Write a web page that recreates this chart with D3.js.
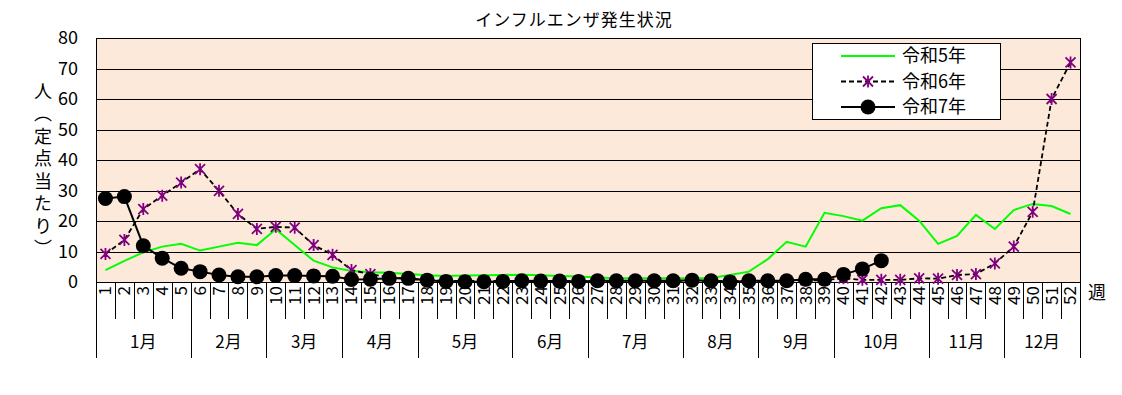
<!DOCTYPE html>
<html>
<head>
<meta charset="utf-8">
<script src="https://cdn.jsdelivr.net/npm/d3@7"></script>
<style>
  body { margin: 0; background: #fff; }
  text { font-family: "Noto Sans CJK JP", "Noto Sans", sans-serif; fill: #000; }
</style>
</head>
<body>
<div id="chart"></div>
<script>
// categories
var weeks = ["1","2","3","4","5","6","7","8","9","10","11","12","13","14","15","16","17","18","19","20",
  "21","22","23","24","25","26","27","28","29","30","31","32","33","34","35","36","37","38","39","40",
  "41","42","43","44","45","46","47","48","49","50","51","52"];
var monthLabels = ["1月","2月","3月","4月","5月","6月","7月","8月","9月","10月","11月","12月"];
// last week number of every month
var monthEnds = [5, 9, 13, 17, 22, 26, 31, 35, 39, 44, 48, 52];
var yTicks = [0, 10, 20, 30, 40, 50, 60, 70, 80];

// series (per week, 定点当たり)
var r5 = [3.9, 6.9, 9.7, 11.6, 12.5, 10.3, 11.6, 12.9, 12.1, 17.3, 12.1, 7.0, 4.8, 3.6, 3.2, 3.0, 2.6, 2.2, 2.0, 2.1,
  2.2, 2.3, 2.4, 2.2, 2.0, 1.8, 1.5, 1.2, 1.2, 1.2, 1.2, 1.2, 1.3, 2.3, 3.4, 7.5, 13.2, 11.6, 22.7, 21.6,
  20.1, 24.2, 25.2, 20.1, 12.5, 15.1, 22.0, 17.4, 23.6, 25.6, 24.9, 22.3];
var r6 = [9.2, 13.8, 23.9, 28.3, 32.6, 37.0, 29.9, 22.3, 17.4, 18.1, 17.8, 12.1, 8.9, 3.9, 2.6, 1.5, 1.0, 0.6, 0.4, 0.4,
  0.4, 0.4, 0.4, 0.4, 0.4, 0.4, 0.4, 0.4, 0.4, 0.4, 0.4, 0.4, 0.4, 0.4, 0.4, 0.4, 0.4, 0.5, 0.6, 1.2,
  0.7, 0.7, 0.7, 1.2, 1.1, 2.3, 2.6, 6.1, 11.6, 23.0, 60.0, 72.0];
var r7 = [27.4, 28.0, 11.9, 7.8, 4.5, 3.4, 2.3, 1.7, 1.7, 2.1, 2.1, 2.0, 1.9, 0.8, 0.9, 1.2, 1.2, 0.6, 0.2, 0.1,
  0.1, 0.2, 0.4, 0.3, 0.3, 0.2, 0.4, 0.4, 0.4, 0.4, 0.4, 0.6, 0.4, 0.0, 0.4, 0.4, 0.4, 0.9, 0.9, 2.5,
  4.3, 7.0];
var seriesNames = ["令和5年", "令和6年", "令和7年"];

var width = 1122, height = 395;
var plot = {left: 96, right: 1080, top: 38, bottom: 282};

var svg = d3.select("#chart").append("svg")
  .attr("width", width)
  .attr("height", height);

var x = d3.scaleBand().domain(weeks).range([plot.left, plot.right]).padding(0);
var y = d3.scaleLinear().domain([0, 80]).range([plot.bottom, plot.top]);
var cx = function (i) { return x(weeks[i]) + x.bandwidth() / 2; };

// plot background
svg.append("rect")
  .attr("x", plot.left).attr("y", plot.top)
  .attr("width", plot.right - plot.left).attr("height", plot.bottom - plot.top)
  .attr("fill", "#fde9d9")
  .attr("stroke", "#000").attr("stroke-width", 1)
  .attr("shape-rendering", "crispEdges");

// gridlines
svg.append("g").selectAll("line")
  .data(yTicks.filter(function (d) { return d > 0 && d < 80; }))
  .enter().append("line")
  .attr("x1", plot.left).attr("x2", plot.right)
  .attr("y1", function (d) { return Math.round(y(d)) + 0.5; })
  .attr("y2", function (d) { return Math.round(y(d)) + 0.5; })
  .attr("stroke", "#000");

// y axis
var yAxis = svg.append("g")
  .attr("transform", "translate(" + (plot.left - 18) + ",0)")
  .call(d3.axisLeft(y).tickValues(yTicks).tickSize(0).tickPadding(0));
yAxis.select(".domain").remove();
yAxis.selectAll("text")
  .style("font-family", "'Noto Sans CJK JP', sans-serif")
  .style("font-size", "18px");

// y axis title (vertical)
svg.append("text")
  .attr("x", 43).attr("y", 82)
  .style("writing-mode", "vertical-rl")
  .style("font-size", "18px")
  .style("letter-spacing", "4.5px")
  .text("人（定点当たり）");

// x axis: week table
var xAxis = svg.append("g")
  .attr("transform", "translate(0," + plot.bottom + ")")
  .call(d3.axisBottom(x).tickSize(0).tickPadding(0));
xAxis.select(".domain").remove();
xAxis.selectAll(".tick text")
  .attr("transform", "translate(0,4) rotate(-90)")
  .attr("x", 0).attr("y", 0).attr("dy", "0.35em")
  .style("text-anchor", "end")
  .style("font-family", "'Noto Sans CJK JP', sans-serif")
  .style("font-size", "17px");

var bounds = weeks.map(function (w) { return x(w); }).concat([plot.right]);
svg.append("g").selectAll("line")
  .data(bounds)
  .enter().append("line")
  .attr("x1", function (d) { return Math.round(d) + 0.5; })
  .attr("x2", function (d) { return Math.round(d) + 0.5; })
  .attr("y1", plot.bottom).attr("y2", plot.bottom + 37)
  .attr("stroke", "#000");

// month rows
var monthStarts = [1].concat(monthEnds.slice(0, -1).map(function (d) { return d + 1; }));
var monthBounds = [plot.left].concat(monthEnds.map(function (e) { return x(weeks[e - 1]) + x.bandwidth(); }));
svg.append("g").selectAll("line")
  .data(monthBounds)
  .enter().append("line")
  .attr("x1", function (d) { return Math.round(d) + 0.5; })
  .attr("x2", function (d) { return Math.round(d) + 0.5; })
  .attr("y1", plot.bottom).attr("y2", plot.bottom + 76)
  .attr("stroke", "#000");
svg.append("g").selectAll("text")
  .data(monthLabels)
  .enter().append("text")
  .attr("x", function (d, i) { return (x(weeks[monthStarts[i] - 1]) + x(weeks[monthEnds[i] - 1]) + x.bandwidth()) / 2; })
  .attr("y", plot.bottom + 66)
  .attr("text-anchor", "middle")
  .style("font-size", "17px")
  .text(function (d) { return d; });

// 週
svg.append("text")
  .attr("x", 1088).attr("y", 299)
  .style("font-size", "18px")
  .text("週");

// title
svg.append("text")
  .attr("x", 574).attr("y", 26)
  .attr("text-anchor", "middle")
  .style("font-size", "17px")
  .style("letter-spacing", "1px")
  .text("インフルエンザ発生状況");

// lines
var line = d3.line()
  .x(function (d, i) { return cx(i); })
  .y(function (d) { return y(d); });

svg.append("path").datum(r5)
  .attr("d", line)
  .attr("fill", "none").attr("stroke", "#00ff00").attr("stroke-width", 2);

svg.append("path").datum(r6)
  .attr("d", line)
  .attr("fill", "none").attr("stroke", "#000").attr("stroke-width", 1.8)
  .attr("stroke-dasharray", "5,3");

var starPath = "M0,-6V6M-5,-5L5,5M-5,5L5,-5";
svg.append("g").selectAll("path")
  .data(r6)
  .enter().append("path")
  .attr("transform", function (d, i) { return "translate(" + cx(i) + "," + y(d) + ")"; })
  .attr("d", starPath)
  .attr("fill", "none").attr("stroke", "#800080").attr("stroke-width", 1.8);

svg.append("path").datum(r7)
  .attr("d", line)
  .attr("fill", "none").attr("stroke", "#000").attr("stroke-width", 2);

svg.append("g").selectAll("circle")
  .data(r7)
  .enter().append("circle")
  .attr("cx", function (d, i) { return cx(i); })
  .attr("cy", function (d) { return y(d); })
  .attr("r", 7.5)
  .attr("fill", "#000");

// legend
var legend = svg.append("g").attr("transform", "translate(812,43)");
legend.append("rect")
  .attr("x", 0.5).attr("y", 0.5).attr("width", 188).attr("height", 76)
  .attr("fill", "#fff").attr("stroke", "#000");
var items = legend.selectAll(".item")
  .data(seriesNames)
  .enter().append("g")
  .attr("class", "item")
  .attr("transform", function (d, i) { return "translate(0," + (13 + i * 25.5) + ")"; });
items.append("line")
  .attr("x1", 29).attr("x2", 83).attr("y1", 0).attr("y2", 0)
  .attr("stroke", function (d, i) { return i === 0 ? "#00ff00" : "#000"; })
  .attr("stroke-width", 2)
  .attr("stroke-dasharray", function (d, i) { return i === 1 ? "5,3" : null; });
items.filter(function (d, i) { return i === 1; }).append("path")
  .attr("transform", "translate(56,0)")
  .attr("d", starPath)
  .attr("fill", "none").attr("stroke", "#800080").attr("stroke-width", 1.8);
items.filter(function (d, i) { return i === 2; }).append("circle")
  .attr("cx", 56).attr("cy", 0).attr("r", 7.5).attr("fill", "#000");
items.append("text")
  .attr("x", 90).attr("y", 0).attr("dy", "0.36em")
  .style("font-size", "18px")
  .text(function (d) { return d; });
</script>
</body>
</html>
